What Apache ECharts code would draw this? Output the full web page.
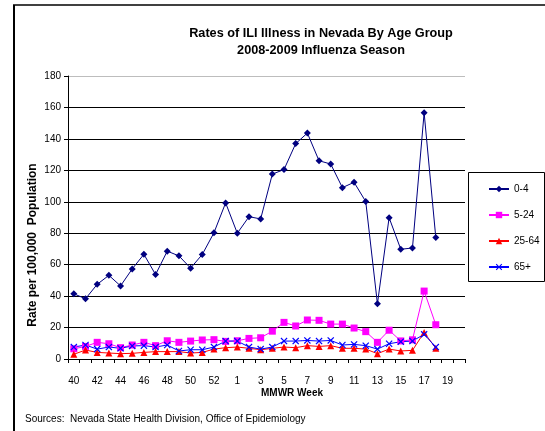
<!DOCTYPE html>
<html>
<head>
<meta charset="utf-8">
<script src="https://cdn.jsdelivr.net/npm/echarts@6/dist/echarts.min.js"></script>
<style>
  html, body { margin: 0; padding: 0; background: #fff; }
  #chart { width: 545px; height: 431px; }
</style>
</head>
<body>
<div id="chart"></div>
<script>
// MMWR weeks (2008 had a week 53)
var weeks = ['40','41','42','43','44','45','46','47','48','49','50','51','52','53',
             '1','2','3','4','5','6','7','8','9','10','11','12','13','14','15','16','17','18','19','20'];

var seriesNames = ['0-4', '5-24', '25-64', '65+'];

var ages0to4 = [41.5, 38.3, 47.5, 53.2, 46.5, 57.3, 66.6, 53.7, 68.6, 65.6, 57.8, 66.5, 80.3, 99.3,
                80.0, 90.5, 89.1, 117.6, 120.5, 137.0, 143.7, 126.1, 124.0, 109.0, 112.4, 100.1,
                35.1, 89.9, 69.8, 70.6, 156.6, 77.2];
var ages5to24 = [6.5, 8.0, 10.6, 9.7, 7.2, 8.9, 10.6, 8.5, 11.6, 10.6, 11.4, 12.1, 12.3, 11.2,
                 11.6, 13.1, 13.5, 17.7, 23.3, 21.0, 24.8, 24.6, 22.2, 22.2, 19.7, 17.4,
                 10.6, 18.3, 11.5, 12.2, 43.2, 21.8];
var ages25to64 = [3.0, 5.7, 4.2, 3.8, 3.4, 3.6, 4.2, 4.7, 4.7, 4.7, 3.8, 4.2, 6.3, 7.2,
                  7.6, 6.8, 5.9, 6.8, 7.6, 7.2, 8.5, 8.0, 8.5, 6.8, 6.8, 6.3,
                  3.4, 6.3, 5.1, 5.5, 16.9, 6.8];
var ages65plus = [7.6, 8.9, 6.3, 7.6, 6.8, 8.3, 8.5, 7.6, 8.9, 5.1, 5.9, 5.9, 7.6, 11.4,
                  11.4, 7.6, 6.3, 7.6, 11.4, 11.4, 11.8, 11.4, 11.8, 8.9, 9.3, 8.5,
                  6.3, 9.7, 11.0, 11.4, 15.7, 7.6];

var titleLines = ['Rates of ILI Illness in Nevada By Age Group', '2008-2009 Influenza Season'];
var yAxisTitle = 'Rate per 100,000  Population';
var xAxisTitle = 'MMWR Week';
var sourceNote = 'Sources:  Nevada State Health Division, Office of Epidemiology';

var FONT = '"Liberation Sans", Arial, sans-serif';
var xMark = 'path://M0,1.2L1.2,0L5,3.8L8.8,0L10,1.2L6.2,5L10,8.8L8.8,10L5,6.2L1.2,10L0,8.8L3.8,5Z';

var chart = echarts.init(document.getElementById('chart'), null, { renderer: 'canvas' });

function lineSeries(name, data, color, symbol, size) {
  return {
    name: name,
    type: 'line',
    data: data,
    symbol: symbol,
    symbolSize: size,
    showSymbol: true,
    animation: false,
    lineStyle: { color: color, width: 1 },
    itemStyle: { color: color, borderColor: color, borderWidth: 0 },
    emphasis: { disabled: true }
  };
}

var option = {
  backgroundColor: '#fff',
  animation: false,
  textStyle: { fontFamily: FONT },
  grid: { left: 68, right: 80, top: 76, bottom: 72, containLabel: false, outerBoundsMode: 'none' },
  xAxis: {
    type: 'category',
    data: weeks,
    boundaryGap: true,
    axisLine: { show: true, lineStyle: { color: '#000', width: 1 } },
    axisTick: { show: true, interval: 0, length: 4, alignWithLabel: false, lineStyle: { color: '#000' } },
    axisLabel: { interval: 1, margin: 17, fontSize: 10, color: '#000', fontFamily: FONT },
    splitLine: { show: false }
  },
  yAxis: {
    type: 'value',
    min: 0,
    max: 180,
    interval: 20,
    axisLine: { show: true, lineStyle: { color: '#000', width: 1 } },
    axisTick: { show: true, length: 4, lineStyle: { color: '#000' } },
    axisLabel: { margin: 7, fontSize: 10, color: '#000', fontFamily: FONT },
    splitLine: { show: true, lineStyle: { color: ['#000','#000','#000','#000','#000','#000','#000','#000','#000','#bdbdbd'], width: 1 } }
  },
  legend: {
    orient: 'vertical',
    left: 483,
    top: 179,
    itemWidth: 20,
    itemHeight: 8,
    itemGap: 16,
    data: seriesNames,
    textStyle: { fontSize: 10, color: '#000', fontFamily: FONT },
    selectedMode: false
  },
  series: [
    lineSeries(seriesNames[0], ages0to4, '#000080', 'diamond', 7),
    lineSeries(seriesNames[1], ages5to24, '#FF00FF', 'rect', 7),
    lineSeries(seriesNames[2], ages25to64, '#FF0000', 'triangle', 7),
    lineSeries(seriesNames[3], ages65plus, '#0000FF', xMark, 7)
  ],
  graphic: [
    { type: 'line', shape: { x1: 14, y1: 5, x2: 14, y2: 431 }, style: { stroke: '#000', lineWidth: 2 }, silent: true },
    { type: 'line', shape: { x1: 13, y1: 5, x2: 545, y2: 5 }, style: { stroke: '#000', lineWidth: 1.5 }, silent: true },
    { type: 'rect', shape: { x: 468.5, y: 172.5, width: 76, height: 109 }, style: { fill: 'none', stroke: '#000', lineWidth: 1 }, silent: true, z: 0 },
    { type: 'text', x: 321, y: 33, style: { text: titleLines[0], font: 'bold 12.7px ' + FONT, fill: '#000', textAlign: 'center', textVerticalAlign: 'middle' }, silent: true },
    { type: 'text', x: 321, y: 50, style: { text: titleLines[1], font: 'bold 12.7px ' + FONT, fill: '#000', textAlign: 'center', textVerticalAlign: 'middle' }, silent: true },
    { type: 'text', x: 33, y: 245, rotation: Math.PI / 2, style: { text: yAxisTitle, font: 'bold 12px ' + FONT, fill: '#000', textAlign: 'center', textVerticalAlign: 'middle' }, silent: true },
    { type: 'text', x: 292, y: 393, style: { text: xAxisTitle, font: 'bold 10px ' + FONT, fill: '#000', textAlign: 'center', textVerticalAlign: 'middle' }, silent: true },
    { type: 'text', x: 25, y: 419, style: { text: sourceNote, font: '10px ' + FONT, fill: '#000', textAlign: 'left', textVerticalAlign: 'middle' }, silent: true }
  ]
};

chart.setOption(option);
</script>
</body>
</html>
